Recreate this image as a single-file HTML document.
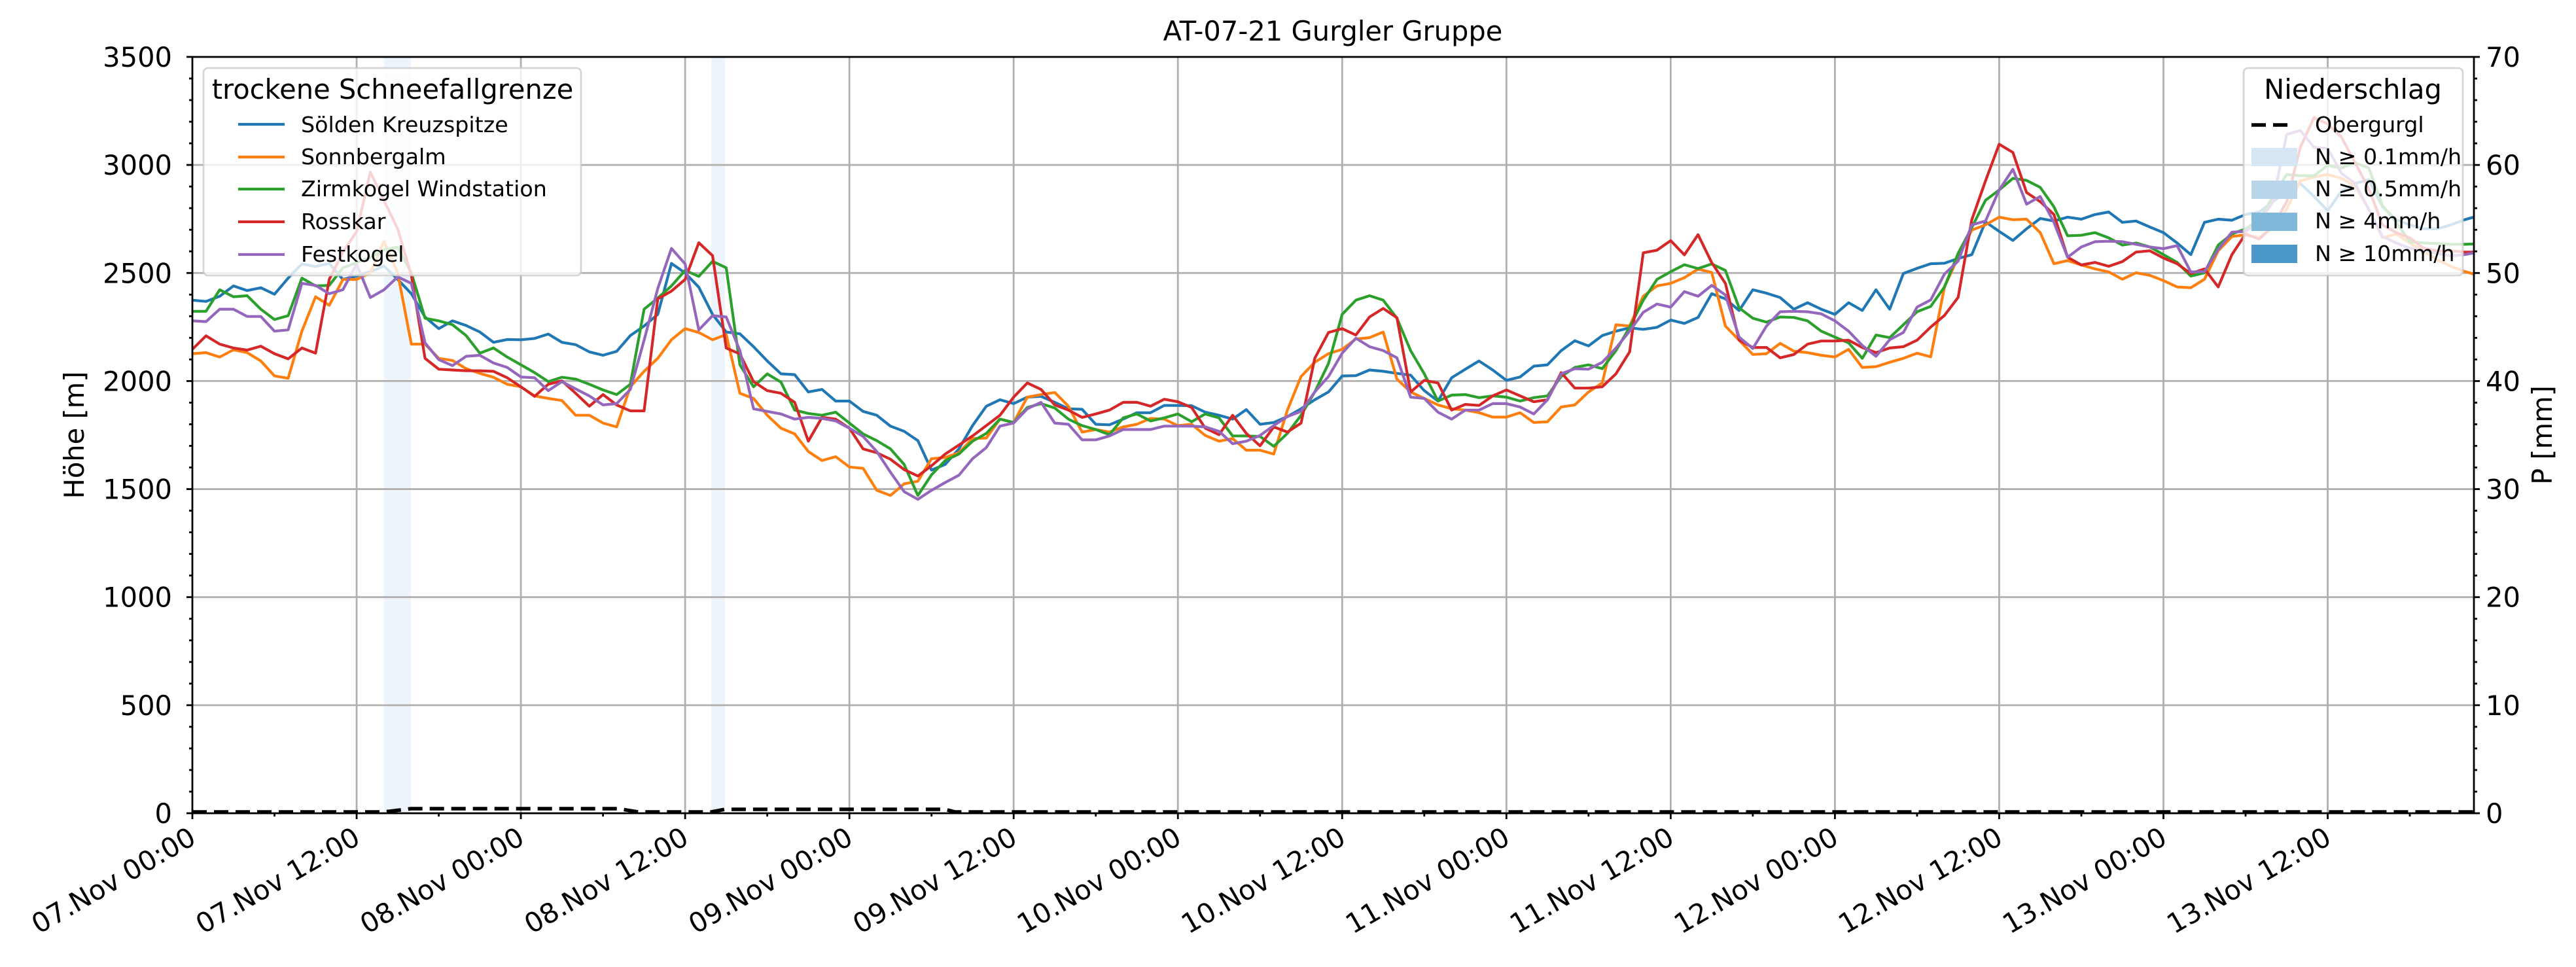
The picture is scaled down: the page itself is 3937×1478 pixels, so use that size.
<!DOCTYPE html>
<html><head><meta charset="utf-8">
<style>
html,body{margin:0;padding:0;background:#fff;}
svg{display:block;}
text{font-family:"DejaVu Sans","Liberation Sans",sans-serif;fill:#000;}
</style></head>
<body>
<svg id="s" xmlns="http://www.w3.org/2000/svg" width="3937" height="1478" viewBox="0 0 3937 1478">
<defs><clipPath id="c"><rect x="294" y="87" width="3487" height="1156"/></clipPath></defs>
<rect x="0" y="0" width="3937" height="1478" fill="#fff"/>
<g id="bands" clip-path="url(#c)">
<rect x="587" y="87" width="41" height="1156" fill="#eef4fb"/>
<rect x="1087" y="87" width="21" height="1156" fill="#eef4fb"/>
</g>
<g id="grid" stroke="#b0b0b0" stroke-width="2.8"></g>
<g id="series" clip-path="url(#c)" fill="none" stroke-width="4.2" stroke-linejoin="round"></g>
<polyline clip-path="url(#c)" points="294,1241 587,1241 628,1236 945,1236 975,1241 1087,1241 1108,1237 1444,1237 1460,1241 3781,1241" fill="none" stroke="#000" stroke-width="5.5" stroke-dasharray="22 11"/>
<g id="ticks" stroke="#000" stroke-width="2.8"></g>
<rect x="294" y="87" width="3487" height="1156" fill="none" stroke="#000" stroke-width="2.8"/>
<g id="labels" font-size="41.6"></g>
<text x="2037" y="62" font-size="41.6" text-anchor="middle">AT-07-21 Gurgler Gruppe</text>
<text x="0" y="0" font-size="41.6" text-anchor="middle" transform="translate(128 665) rotate(-90)">Höhe [m]</text>
<text x="0" y="0" font-size="41.6" text-anchor="middle" transform="translate(3900 665) rotate(-90)">P [mm]</text>

<rect x="311" y="104" width="577" height="317" rx="7" fill="#fff" fill-opacity="0.8" stroke="#cccccc" stroke-opacity="0.8" stroke-width="2.8"/>
<text x="600" y="151" font-size="41.6" text-anchor="middle">trockene Schneefallgrenze</text>
<g stroke-width="4.2">
<line x1="364" y1="190" x2="435" y2="190" stroke="#1f77b4"/>
<line x1="364" y1="240" x2="435" y2="240" stroke="#ff7f0e"/>
<line x1="364" y1="289" x2="435" y2="289" stroke="#2ca02c"/>
<line x1="364" y1="339" x2="435" y2="339" stroke="#d62728"/>
<line x1="364" y1="389" x2="435" y2="389" stroke="#9467bd"/>
</g>
<g font-size="33.3">
<text x="460" y="202">Sölden Kreuzspitze</text>
<text x="460" y="251">Sonnbergalm</text>
<text x="460" y="300">Zirmkogel Windstation</text>
<text x="460" y="350">Rosskar</text>
<text x="460" y="400">Festkogel</text>
</g>

<rect x="3429" y="104" width="335" height="317" rx="7" fill="#fff" fill-opacity="0.8" stroke="#cccccc" stroke-opacity="0.8" stroke-width="2.8"/>
<text x="3596" y="151" font-size="41.6" text-anchor="middle">Niederschlag</text>
<line x1="3441" y1="191" x2="3500" y2="191" stroke="#000" stroke-width="5.5" stroke-dasharray="22 11"/>
<rect x="3441" y="226" width="70" height="28" fill="#d6e6f4"/>
<rect x="3441" y="276" width="70" height="28" fill="#b8d5ea"/>
<rect x="3441" y="325" width="70" height="28" fill="#80b8d9"/>
<rect x="3441" y="374" width="70" height="28" fill="#4a98c9"/>
<g font-size="33.3">
<text x="3538" y="202">Obergurgl</text>
<text x="3538" y="251">N ≥ 0.1mm/h</text>
<text x="3538" y="300">N ≥ 0.5mm/h</text>
<text x="3538" y="349">N ≥ 4mm/h</text>
<text x="3538" y="399">N ≥ 10mm/h</text>
</g>
</svg>
<script>
(function(){
var NS="http://www.w3.org/2000/svg";
function el(p,n,a,t){var e=document.createElementNS(NS,n);for(var k in a)e.setAttribute(k,a[k]);if(t!==undefined)e.textContent=t;p.appendChild(e);return e;}
var X0=294,X1=3781,Y0=87,Y1=1243,PH=20.92;
var grid=document.getElementById('grid'),ticks=document.getElementById('ticks'),labels=document.getElementById('labels'),ser=document.getElementById('series');
for(var v=0;v<=3500;v+=500){var y=Y1-v*0.3303;
 if(v>0&&v<3500)el(grid,'line',{x1:X0,y1:y,x2:X1,y2:y});
 el(ticks,'line',{x1:X0-9,y1:y,x2:X0,y2:y});
 el(labels,'text',{x:263,y:y+15,'text-anchor':'end'},String(v));}
for(var v=100;v<3500;v+=100){if(v%500==0)continue;var y=Y1-v*0.3303;el(ticks,'line',{x1:X0-5,y1:y,x2:X0,y2:y});}
for(var p=0;p<=70;p+=2){var y=Y1-p/70*1156;var major=(p%10==0);
 el(ticks,'line',{x1:X1,y1:y,x2:X1+(major?9:5),y2:y});
 if(major)el(labels,'text',{x:3799,y:y+15},String(p));}
var lab=["07.Nov 00:00","07.Nov 12:00","08.Nov 00:00","08.Nov 12:00","09.Nov 00:00","09.Nov 12:00","10.Nov 00:00","10.Nov 12:00","11.Nov 00:00","11.Nov 12:00","12.Nov 00:00","12.Nov 12:00","13.Nov 00:00","13.Nov 12:00"];
for(var k=0;k<14;k++){var x=X0+k*12*PH;
 if(k>0)el(grid,'line',{x1:x,y1:Y0,x2:x,y2:Y1});
 el(ticks,'line',{x1:x,y1:Y1,x2:x,y2:Y1+9});
 var bx=x+8,by=1288;
 el(labels,'text',{x:bx,y:by,'text-anchor':'end',transform:'rotate(-30 '+bx+' '+by+')'},lab[k]);}
for(var h=6;h<167;h+=12){var x=X0+h*PH;el(ticks,'line',{x1:x,y1:Y1,x2:x,y2:Y1+5});}
var D={
"#1f77b4":[[705,710,690,650,668,657,682,620,565,575,563,625,612,595,573,625,680,770,815,785,803,828,868,857,858,853,836,868,877,905,918,903,842,805,760,563,600,655,760,828,835,885,940],
[935,990,993,1060,1050,1095,1095,1135,1150,1192,1212,1248,1362,1340,1280,1190,1115,1090,1105,1080,1077,1100,1125,1127,1185,1187,1165,1140,1140,1112,1112,1113,1138,1150,1165,1128,1185,1178,1155,1125,1090,1060,998],
[1000,997,975,980,988,995,1055,1095,1005,972,940,975,1015,1002,960,955,900,862,882,842,825,812,818,810,782,795,772,680,700,745,665,678,695,740,715,740,760,715,745,665,740,602,582],
[655,640,638,620,605,478,515,550,505,465,475,460,468,450,440,480,475,498,520,560,605,480,468,472,450,440,400,360,330,380,435,360,330,315,420,470,490,505,505,490,470,455]],
"#ff7f0e":[[912,908,925,897,908,940,998,1007,825,692,725,625,625,600,478,600,875,875,930,938,970,988,1003,1030,1040,1075,1085,1093,1150,1150,1180,1195,1040,980,930,858,815,830,858,838,1065,1085,1150],
[1135,1200,1222,1290,1325,1310,1350,1355,1440,1460,1415,1405,1318,1313,1295,1240,1238,1165,1178,1080,1070,1062,1115,1215,1205,1215,1195,1185,1162,1165,1190,1185,1228,1250,1240,1285,1285,1300,1130,1000,945,912,895],
[885,855,850,828,1010,1060,1085,1110,1125,1130,1140,1157,1157,1140,1178,1175,1118,1110,1060,1025,800,805,690,650,640,618,585,598,805,860,915,912,872,902,908,918,925,895,965,962,945,930,910],
[990,1000,730,615,510,490,460,470,468,520,640,628,645,660,672,700,675,685,705,730,733,700,590,535,528,540,500,430,320,305,295,310,340,430,540,525,560,590,625,650,670,685]],
"#2ca02c":[[748,748,665,692,688,740,780,765,620,650,648,580,560,540,510,500,600,775,785,800,842,910,890,925,955,985,1020,1003,1010,1030,1052,1070,1030,740,697,650,590,613,555,580,955,1040,990],
[990,1022,1130,1143,1150,1138,1180,1222,1248,1280,1340,1460,1380,1325,1300,1250,1220,1165,1178,1120,1105,1122,1165,1190,1205,1225,1160,1145,1172,1160,1145,1175,1145,1160,1230,1230,1232,1270,1220,1150,1060,950,760],
[760,705,688,705,775,900,990,1095,1072,1070,1082,1075,1080,1095,1082,1075,1000,965,955,970,900,810,705,625,595,568,583,565,590,735,775,790,770,772,785,825,848,870,930,840,850,800,750],
[828,805,730,600,500,395,355,310,318,345,420,532,530,520,540,568,560,575,605,635,688,675,568,525,505,470,380,295,300,300,260,270,250,270,415,480,555,560,562,565,565,563]],
"#d62728":[[895,843,875,890,898,883,912,932,890,910,625,520,440,210,320,430,610,930,972,975,978,978,980,1005,1040,1077,1030,1017,1065,1115,1070,1110,1133,1133,700,670,625,483,533,890,913,1020,1055],
[1055,1065,1100,1250,1158,1165,1200,1280,1295,1320,1360,1385,1345,1300,1265,1230,1190,1150,1080,1025,1050,1110,1130,1158,1145,1130,1100,1100,1115,1088,1098,1120,1200,1225,1150,1220,1268,1195,1215,1180,930,830,815],
[815,840,770,737,773,1060,1015,1025,1130,1108,1112,1075,1052,1075,1098,1090,985,1045,1045,1040,990,905,522,512,475,530,452,560,640,860,888,888,928,915,875,863,863,860,888,908,890,885,860],
[935,885,840,770,470,320,178,210,365,400,450,615,645,635,650,632,595,590,618,640,678,660,730,605,525,545,495,400,190,75,100,150,250,350,490,520,540,580,590,590,595,595]],
"#9467bd":[[785,788,740,740,768,768,825,820,640,648,680,665,565,695,665,615,640,870,935,958,922,918,948,965,1002,1005,1055,1020,1048,1075,1110,1105,1050,860,660,505,565,820,765,770,900,1125,1135],
[1130,1145,1165,1158,1162,1172,1200,1232,1290,1370,1445,1475,1440,1410,1382,1318,1275,1192,1180,1125,1100,1180,1185,1245,1245,1230,1205,1205,1205,1192,1192,1192,1195,1212,1260,1250,1228,1190,1155,1135,1060,1000,910],
[920,852,885,900,928,1080,1085,1138,1165,1130,1130,1105,1105,1118,1145,1090,990,970,972,945,890,825,752,720,732,672,690,648,685,848,892,805,750,748,750,758,785,825,880,922,858,830,732],
[805,780,680,630,490,475,355,275,410,380,480,615,575,555,553,555,565,575,582,570,672,670,585,518,515,480,400,140,125,190,195,290,330,430,535,560,580,590,600,610,605,595]]
};
var offs=[180,180,180,150],starts=[0,42,84,126];
for(var col in D){var segs=D[col],pts=[];
 for(var s=0;s<4;s++){var a=segs[s];for(var i=(s==0?0:1);i<a.length;i++){var h=starts[s]+i;var x=X0+h*PH;var y=offs[s]+a[i]*0.3954;pts.push(x.toFixed(1)+','+y.toFixed(1));}}
 el(ser,'polyline',{points:pts.join(' '),stroke:col});}
})();
</script>
</body></html>
